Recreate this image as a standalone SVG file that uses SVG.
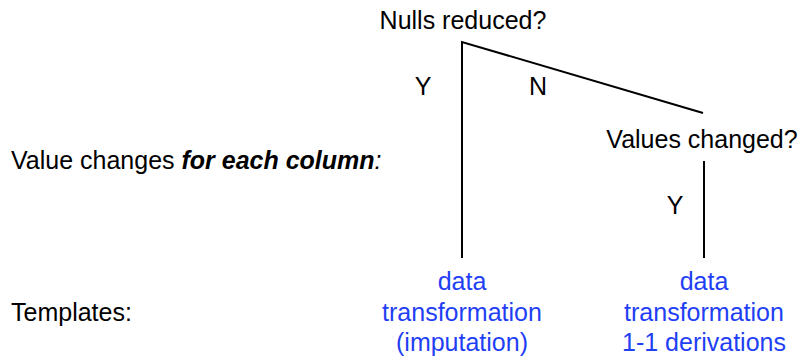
<svg xmlns="http://www.w3.org/2000/svg" width="800" height="360" viewBox="0 0 800 360">
<style>
text{font-family:"Liberation Sans",Arial,sans-serif;font-size:25px;fill:#000}
.c{text-anchor:middle}
.b{fill:#1f3ff5}
.e{stroke:#000;stroke-width:2;fill:none}
</style>
<rect width="800" height="360" fill="#fff"/>
<g id="connectors">
<polyline class="e" points="462,258 462,42 703,113"/>
<line class="e" x1="704" y1="161" x2="704" y2="258"/>
<text x="423" y="95" class="c">Y</text>
<text x="538" y="95" class="c">N</text>
<text x="675" y="214" class="c">Y</text>
</g>
<g id="nulls"><text x="463" y="29" class="c">Nulls reduced?</text></g>
<g id="values"><text x="702" y="148" class="c">Values changed?</text></g>
<g id="label-value"><text x="11" y="169">Value changes <tspan font-weight="bold" font-style="italic">for each column</tspan><tspan font-style="italic">:</tspan></text></g>
<g id="label-templates"><text x="11" y="321">Templates:</text></g>
<g id="imputation">
<text x="462" y="290" class="c b">data</text>
<text x="462" y="321" class="c b">transformation</text>
<text x="462" y="351" class="c b">(imputation)</text>
</g>
<g id="derivations">
<text x="704" y="290" class="c b">data</text>
<text x="704" y="321" class="c b">transformation</text>
<text x="704" y="351" class="c b">1-1 derivations</text>
</g>
</svg>
